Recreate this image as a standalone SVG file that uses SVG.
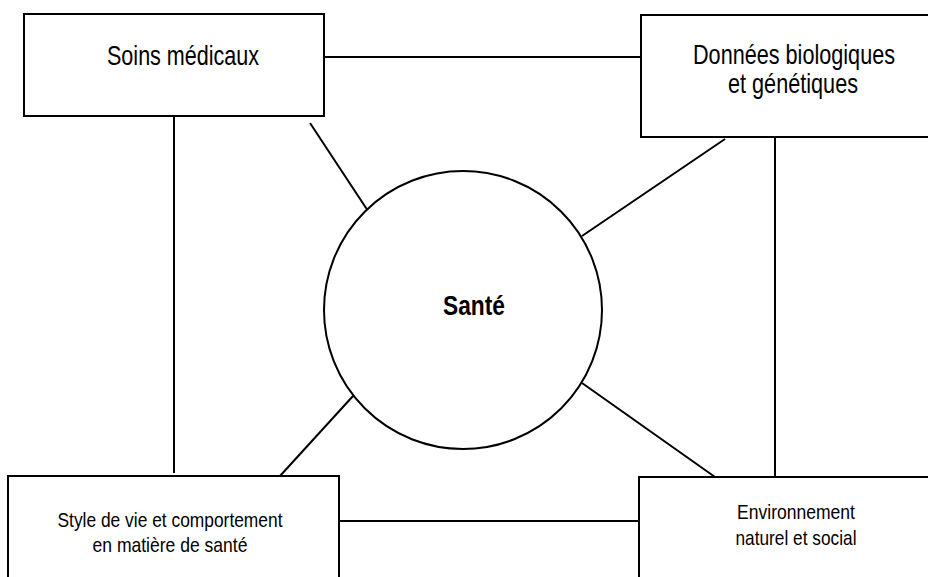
<svg xmlns="http://www.w3.org/2000/svg" width="928" height="577" viewBox="0 0 928 577">
<style>
.box{fill:#fff;stroke:#000;stroke-width:2}
.ln{stroke:#000;stroke-width:2;fill:none}
.t{font-family:"Liberation Sans",Arial,Helvetica,sans-serif;fill:#000;text-anchor:middle}
.big{font-size:22px}
.sm{font-size:21px}
.b{font-weight:bold;font-size:23px}
</style>
<rect width="928" height="577" fill="#fff"/>
<g id="connectors">
<line class="ln" x1="324" y1="57" x2="641" y2="57"/>
<line class="ln" x1="174" y1="116" x2="174" y2="473"/>
<line class="ln" x1="310" y1="123" x2="370" y2="214"/>
<line class="ln" x1="725" y1="139" x2="582" y2="236"/>
<line class="ln" x1="775" y1="137" x2="775" y2="477"/>
<line class="ln" x1="582" y1="383" x2="715" y2="477"/>
<line class="ln" x1="353" y1="396" x2="280" y2="476"/>
<line class="ln" x1="339" y1="521" x2="639" y2="521"/>
</g>
<g id="soins">
<rect class="box" x="24" y="14" width="300" height="102"/>
<text class="t big" transform="translate(183 65) scale(1 1.27)" textLength="152" lengthAdjust="spacingAndGlyphs">Soins médicaux</text>
</g>
<g id="donnees">
<path class="box" d="M928 15 H641 V137 H928"/>
<text class="t big" transform="translate(794 64) scale(1 1.27)" textLength="202" lengthAdjust="spacingAndGlyphs">Données biologiques</text>
<text class="t big" transform="translate(793 93) scale(1 1.27)" textLength="130" lengthAdjust="spacingAndGlyphs">et génétiques</text>
</g>
<g id="style">
<path class="box" d="M8 577 V476 H339 V577"/>
<text class="t sm" x="170" y="527" textLength="225" lengthAdjust="spacingAndGlyphs">Style de vie et comportement</text>
<text class="t sm" x="170" y="552" textLength="155" lengthAdjust="spacingAndGlyphs">en matière de santé</text>
</g>
<g id="environnement">
<path class="box" d="M639 577 V477 H928"/>
<text class="t sm" x="796" y="519" textLength="118" lengthAdjust="spacingAndGlyphs">Environnement</text>
<text class="t sm" x="796" y="545" textLength="121" lengthAdjust="spacingAndGlyphs">naturel et social</text>
</g>
<g id="sante">
<circle class="box" cx="463" cy="310" r="139"/>
<text class="t b" transform="translate(474 315) scale(1 1.22)" textLength="62" lengthAdjust="spacingAndGlyphs">Santé</text>
</g>
</svg>
